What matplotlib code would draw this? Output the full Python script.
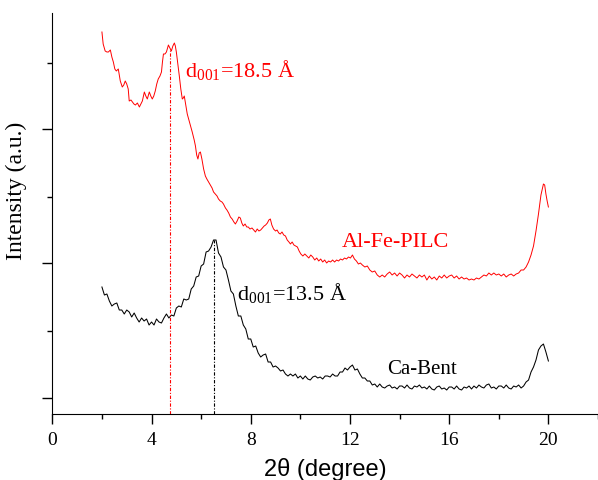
import numpy as np
from matplotlib import pyplot as plt
from matplotlib.ticker import MultipleLocator, FixedLocator

plt.rcParams['mathtext.fontset'] = 'custom'
plt.rcParams['mathtext.rm'] = 'Liberation Serif'
plt.rcParams['mathtext.it'] = 'Liberation Serif:italic'

# Ca-Bent, 2theta 2.0 .. 20.0 step 0.1, intensity in a.u.
bent_x = np.round(np.arange(2.0, 20.05, 0.1), 2)
bent_y = [127, 119, 120, 113, 108, 110, 111, 104, 104, 100,
          104, 102, 97, 101, 96, 92, 96, 93, 95, 89,
          92, 89, 95, 92, 91, 96, 100, 96, 99, 98,
          106, 108, 107, 115, 114, 115, 125, 128, 137, 138,
          148, 150, 162, 163, 167, 174, 174, 161, 157, 147,
          144, 134, 123, 120, 108, 98, 98, 89, 85, 75,
          75, 67, 68, 61, 57, 59, 60, 52, 52, 47,
          48, 46, 43, 44, 40, 38, 40, 38, 40, 36,
          38, 35, 38, 35, 34, 37, 38, 36, 37, 35,
          38, 38, 37, 40, 38, 38, 42, 42, 46, 44,
          47, 49, 44, 45, 40, 36, 36, 33, 33, 29,
          30, 27, 30, 27, 26, 28, 29, 26, 27, 25,
          28, 28, 26, 29, 26, 25, 28, 27, 29, 26,
          27, 25, 28, 25, 24, 27, 28, 25, 26, 24,
          27, 27, 25, 28, 25, 24, 27, 26, 28, 25,
          28, 26, 29, 27, 26, 29, 30, 26, 27, 25,
          28, 28, 26, 29, 26, 25, 28, 27, 29, 26,
          28, 32, 34, 42, 47, 54, 64, 68, 70, 62, 53]

# Al-Fe-PILC
pilc_x = [2.0, 2.05, 2.13, 2.2, 2.26, 2.34, 2.4, 2.46, 2.52, 2.58, 2.66, 2.74, 2.82, 2.88, 2.94,
          3.0, 3.06, 3.1, 3.17, 3.23, 3.29, 3.35, 3.43, 3.51, 3.57, 3.63, 3.71, 3.77, 3.83, 3.91, 3.97,
          4.03, 4.09, 4.15, 4.21, 4.27, 4.34, 4.4, 4.44, 4.48, 4.54, 4.6, 4.68, 4.74, 4.8, 4.86, 4.92, 4.96,
          5.0, 5.06, 5.12, 5.18, 5.24, 5.28, 5.32, 5.38, 5.44, 5.54, 5.64, 5.72, 5.77, 5.82, 5.87, 5.92, 5.97,
          6.03, 6.1, 6.17, 6.23, 6.3, 6.37, 6.44, 6.5, 6.57, 6.64, 6.7, 6.77, 6.84, 6.9, 6.98,
          7.04, 7.11, 7.18, 7.25, 7.32, 7.38, 7.45, 7.52, 7.58, 7.64, 7.7, 7.77, 7.84, 7.9, 7.97,
          8.05, 8.12, 8.19, 8.26, 8.33, 8.4, 8.47, 8.54, 8.6, 8.67, 8.73, 8.79, 8.85, 8.92,
          9.0, 9.06, 9.13, 9.19, 9.26, 9.33, 9.4, 9.47, 9.54, 9.6, 9.67, 9.74, 9.81, 9.88, 9.95,
          10.02, 10.1, 10.18, 10.26, 10.34, 10.42, 10.5, 10.58, 10.66, 10.74, 10.82, 10.9, 10.98,
          11.06, 11.14, 11.22, 11.3, 11.38, 11.46, 11.54, 11.62, 11.7, 11.78, 11.86, 11.94,
          12.02, 12.1, 12.18, 12.26, 12.34, 12.42, 12.5, 12.6, 12.7, 12.8, 12.9,
          13.0, 13.1, 13.2, 13.3, 13.4, 13.5, 13.6, 13.7, 13.8, 13.9,
          14.0, 14.1, 14.2, 14.3, 14.4, 14.5, 14.6, 14.7, 14.8, 14.9,
          15.0, 15.1, 15.2, 15.3, 15.4, 15.5, 15.6, 15.7, 15.8, 15.9,
          16.0, 16.1, 16.2, 16.3, 16.4, 16.5, 16.6, 16.7, 16.8, 16.9,
          17.0, 17.1, 17.2, 17.3, 17.4, 17.5, 17.6, 17.7, 17.8, 17.9,
          18.0, 18.1, 18.2, 18.3, 18.4, 18.5, 18.6, 18.7, 18.8, 18.9,
          19.0, 19.1, 19.2, 19.3, 19.4, 19.5, 19.6, 19.7, 19.8, 19.85, 19.9, 19.95, 20.0]
pilc_y = [382, 370, 363, 362, 362, 364, 357, 352, 345, 343, 345, 333, 327, 329, 333,
          330, 325, 313, 314, 312, 310, 309, 311, 307, 310, 313, 322, 318, 315, 322, 318,
          315, 318, 323, 330, 335, 338, 342, 352, 360, 360, 362, 369, 366, 363, 368, 371, 368,
          362, 350, 338, 325, 315, 316, 318, 309, 300, 291, 282, 274, 268, 259, 255, 261, 262,
          255, 245, 238, 235, 232, 229, 226, 222, 220, 218, 215, 213, 212, 210, 206,
          204, 201, 197, 195, 192, 190, 193, 197, 196, 191, 188, 190, 187, 187, 185,
          186, 184, 182, 185, 183, 184, 186, 188, 189, 191, 194, 195, 189, 185,
          183, 184, 181, 180, 182, 179, 178, 174, 172, 170, 172, 169, 168, 167, 163,
          160, 158, 160, 158, 156, 159, 157, 154, 156, 153, 155, 152, 154,
          151, 153, 152, 154, 152, 154, 153, 155, 154, 156, 155, 157,
          156, 159, 155, 153, 150, 151, 149, 147, 148, 144, 142,
          143, 139, 137, 139, 137, 140, 142, 139, 141, 138,
          141, 139, 136, 139, 137, 140, 138, 136, 139, 137,
          139, 134, 138, 135, 137, 134, 138, 136, 139, 136,
          138, 139, 136, 138, 135, 137, 135, 136, 134, 135,
          134, 136, 135, 137, 139, 138, 141, 139, 141, 139,
          140, 138, 140, 137, 139, 140, 138, 140, 141, 144,
          144, 147, 152, 159, 168, 183, 200, 219, 230, 229, 220, 213, 207]

# d001 reflections
d_pilc = 4.76
d_bent = 6.53

fig = plt.figure(figsize=(5.98, 4.81), dpi=100)
ax = fig.add_axes([0.0875, 0.1372, 0.9125, 0.8337])

ax.plot(bent_x, bent_y, color='black', lw=0.75)
ax.plot(pilc_x, pilc_y, color='red', lw=0.7)

ax.vlines(d_pilc, 0, np.interp(d_pilc, pilc_x, pilc_y), colors='red',
          linestyles=(0, (3, 1.5, 1, 1.5)), lw=0.8)
ax.vlines(d_bent, 0, np.interp(d_bent, bent_x, bent_y), colors='black',
          linestyles=(0, (3, 1.5, 1, 1.5)), lw=0.8)

ax.text(5.36, 338, r'$\mathrm{d}_{001}$=18.5 Å', color='red', fontsize=16,
        family='Liberation Serif', ha='left', va='baseline')
ax.text(7.46, 115, r'$\mathrm{d}_{001}$=13.5 Å', color='black', fontsize=16,
        family='Liberation Serif', ha='left', va='baseline')
ax.text(11.69, 168, 'Al-Fe-PILC', color='red', fontsize=16,
        family='Liberation Serif', ha='left', va='baseline')
ax.text(13.51, 41, 'Ca-Bent', color='black', fontsize=15,
        family='Liberation Serif', ha='left', va='baseline')

ax.set_xlim(0, 22)
ax.set_ylim(0, 401)
ax.xaxis.set_major_locator(MultipleLocator(4))
ax.xaxis.set_minor_locator(MultipleLocator(2))
ax.yaxis.set_major_locator(FixedLocator([16, 151, 285]))
ax.yaxis.set_minor_locator(FixedLocator([83, 217, 351]))
ax.set_yticklabels([])
ax.tick_params(which='major', direction='out', length=7, width=1, labelsize=14, pad=5)
ax.tick_params(which='minor', direction='out', length=3.5, width=1)
for lab in ax.get_xticklabels():
    lab.set_family('Liberation Serif')

for side in ['top', 'right']:
    ax.spines[side].set_visible(False)

ax.set_xlabel('2θ (degree)', fontsize=17, family='Liberation Sans')
ax.xaxis.set_label_coords(0.5, -0.108)
ax.set_ylabel('Intensity (a.u.)', fontsize=17, family='Liberation Serif')
ax.yaxis.set_label_coords(-0.046, 0.56)

fig.savefig('out.png', dpi=100)
